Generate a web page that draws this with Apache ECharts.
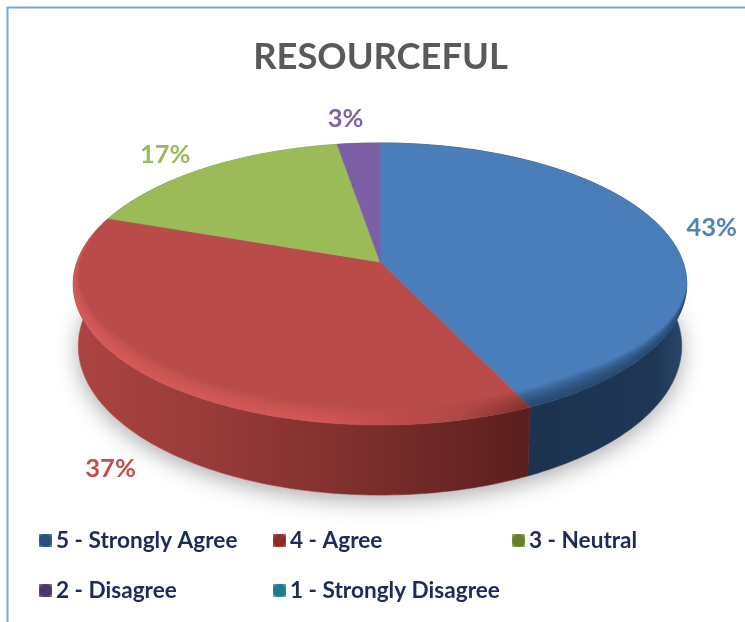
<!DOCTYPE html>
<html><head><meta charset="utf-8">
<style>html,body{margin:0;padding:0;background:#fff}#c{width:745px;height:622px}</style>
<script src="https://cdn.jsdelivr.net/npm/echarts@6/dist/echarts.min.js"></script>
</head><body><div id="c"></div>
<script>
const titleText = 'RESOURCEFUL';
const categories = ['5 - Strongly Agree','4 - Agree','3 - Neutral','2 - Disagree','1 - Strongly Disagree'];
const values = [43,37.4,17,2.6,0];
const topColors = ['#4a7ebb','#b94b49','#9bbb59','#7d5fa6','#4aacc5'];
const labelColors = ['#4f81bd','#c0504d','#9bbb59','#8064a2','#4bacc6'];
const markerCore = ['#27507d','#8f2c2a','#66802f','#4b3670','#1f7a92'];
const markerEdge = ['#6f9bd0','#d9706d','#b3cf78','#a186c2','#6cc4da'];

// Projective disc: v=+1 far rim, v=-1 near rim
const levels = [
  {cx:380,k:303,a:-96.7,b:262,c:0.156},
  {cx:380,k:298,a:-95,b:322.8,c:0.156}
];
const labelNudge = [[-1,0],[1,0],[-15,1],[-10,-7],[0,0]];
function proj(t,r,l){
  const L=levels[l],u=r*Math.sin(t),v=r*Math.cos(t),d=1+L.c*v;
  return [L.cx+L.k*u/d,(L.a*v+L.b)/d];
}
const total=values.reduce((s,x)=>s+x,0);
function range(i){
  let s=0;for(let j=0;j<i;j++)s+=values[j];
  return [s/total*2*Math.PI,(s+values[i])/total*2*Math.PI];
}
function steps(t0,t1){
  const n=Math.max(2,Math.ceil((t1-t0)*180/Math.PI)),p=[];
  for(let i=0;i<=n;i++)p.push(t0+(t1-t0)*i/n);
  return p;
}
function arc(t0,t1,r,l){return steps(t0,t1).map(t=>proj(t,r,l));}
const grad=(x0,x1,stops)=>({type:'linear',x:x0,y:0,x2:x1,y2:0,global:true,
  colorStops:stops.map(s=>({offset:s[0],color:s[1]}))});
const wallFill=[
  grad(528,687,[[0,'#1c3350'],[0.8,'#1f3755'],[1,'#2a486e']]),
  grad(75,528,[[0,'#ac4442'],[0.3,'#983b39'],[0.65,'#7c2e2c'],[1,'#5a1f1e']]),
  '#76903f','#5a4378','#2f8ea6'
];
const bevelFill=[
  '#1f3755',
  grad(75,528,[[0,'#e2625f'],[0.55,'#da5d5a'],[0.85,'#a84442'],[1,'#6b2523']]),
  '#76903f','#5a4378','#2f8ea6'
];
const bevelStart=1.75, bevelEnd=5.0;
function taper(t){
  const f=Math.min(1,(t-bevelStart)/0.7,(bevelEnd-t)/0.9);
  return Math.max(0,f)*(0.35+0.65*Math.max(0,-Math.cos(t)));
}
function renderShadow(){
  return {type:'polygon',shape:{points:arc(0,2*Math.PI,1.0,1)},silent:true,
    style:{fill:'#fff',shadowBlur:22,shadowColor:'rgba(60,60,60,0.42)',shadowOffsetY:6}};
}
function renderWall(params){
  const i=params.dataIndex,[t0,t1]=range(i);
  if(t1<=t0)return {type:'group',children:[]};
  const pts=arc(t0,t1,1,0).concat(arc(t0,t1,1,1).reverse());
  return {type:'polygon',shape:{points:pts},silent:true,
    style:{fill:wallFill[i],stroke:wallFill[i],lineWidth:0.6}};
}
function renderTop(i){
  return function(){
    const [t0,t1]=range(i);
    if(t1<=t0)return {type:'group',children:[]};
    const apex=proj(0,0,0);
    const kids=[{type:'polygon',shape:{points:[apex].concat(arc(t0,t1,1,0))},silent:true,
      style:{fill:topColors[i],stroke:topColors[i],lineWidth:0.6}}];
    const b0=Math.max(t0,bevelStart),b1=Math.min(t1,bevelEnd);
    if(b1>b0){
      for(let w=1;w<=10;w++){
        const ts=steps(b0,b1);
        const inner=ts.map(t=>proj(t,1-0.0095*w*taper(t),0)).reverse();
        kids.push({type:'polygon',shape:{points:arc(b0,b1,1,0).concat(inner)},silent:true,
          style:{fill:bevelFill[i],opacity:0.11}});
      }
    }
    const mid=(t0+t1)/2,near=Math.cos(mid)<0,p=proj(mid,1.17,near?1:0);
    kids.push({type:'text',silent:true,style:{x:p[0]+labelNudge[i][0],y:p[1]+labelNudge[i][1],text:Math.round(values[i])+'%',
      fill:labelColors[i],font:'bold 25.5px Lato, "Liberation Sans", sans-serif',
      align:'center',verticalAlign:'middle'}});
    return {type:'group',children:kids};
  };
}

const legendSpots=[[39,529],[273,529],[512,529],[39,579],[273,579]];
const series=[
  {type:'custom',name:'shadow',coordinateSystem:'none',z:1,silent:true,data:[[1]],renderItem:renderShadow},
  {type:'custom',name:'walls',coordinateSystem:'none',z:2,silent:true,data:values.map(v=>[v]),renderItem:renderWall}
].concat(categories.map((c,i)=>({
  type:'custom',name:c,coordinateSystem:'none',z:3,silent:true,
  itemStyle:{color:markerCore[i]},data:[[values[i]]],renderItem:renderTop(i)
})));

const chart=echarts.init(document.getElementById('c'),null,{renderer:'canvas'});
chart.setOption({
  animation:false,
  backgroundColor:'#fff',
  title:{text:titleText,left:375.5,top:34,textAlign:'center',
    textStyle:{fontFamily:'Lato, "Liberation Sans", sans-serif',fontWeight:'bold',fontSize:36.3,color:'#595959'}},
  legend:categories.map((c,i)=>({
    data:[{name:c,itemStyle:{color:{type:'radial',x:0.5,y:0.5,r:0.72,
      colorStops:[{offset:0,color:markerCore[i]},{offset:0.6,color:markerCore[i]},{offset:1,color:markerEdge[i]}]}}}],
    left:legendSpots[i][0],top:legendSpots[i][1],
    selectedMode:false,icon:'rect',itemWidth:13,itemHeight:13,itemGap:4,padding:0,
    textStyle:{fontFamily:'Lato, "Liberation Sans", sans-serif',fontWeight:'bold',fontSize:22.6,color:'#1f2a5c',padding:[0,0,0,-1]}
  })),
  graphic:[{type:'rect',z:0,silent:true,shape:{x:7.5,y:7.5,width:780,height:660},
    style:{fill:'#fff',stroke:'#7fa6d9',lineWidth:2}}],
  series
});
</script></body></html>
